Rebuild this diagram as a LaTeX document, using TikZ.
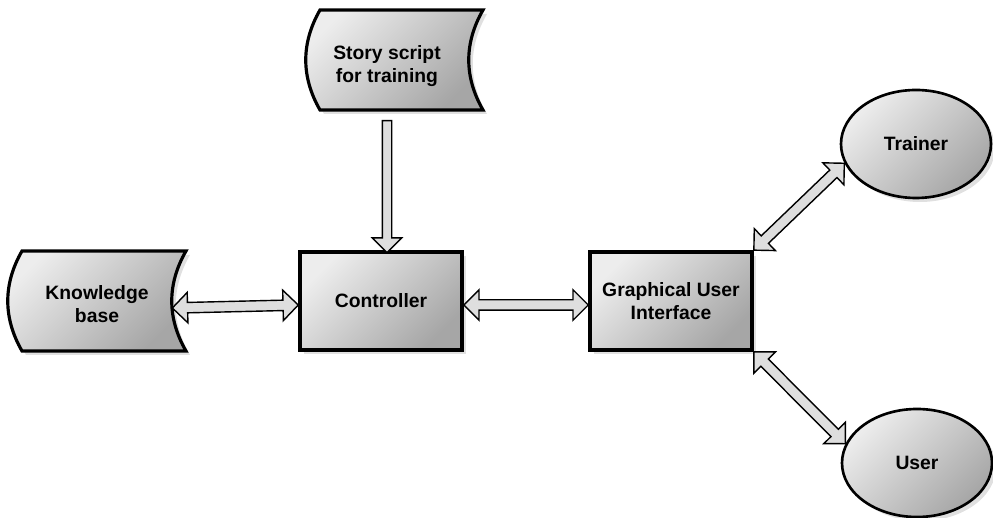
\documentclass[tikz,border=0pt]{standalone}
\usepackage{fontspec}
\setmainfont{Liberation Sans}
\usetikzlibrary{calc,positioning,shapes.geometric,shapes.arrows,shadows,backgrounds}

\tikzset{
  every node/.style={font=\fontsize{11}{12.8}\selectfont\bfseries, align=center},
  shadowed/.style={drop shadow={shadow xshift=0.8mm, shadow yshift=-0.8mm, opacity=0.12, fill=black}},
  grad/.style={top color=black!7, bottom color=black!35, shading angle=45},
  box/.style={rectangle, draw, line width=2pt, grad, shadowed, minimum width=32.4mm, minimum height=19.6mm},
  actor/.style={ellipse, draw, line width=1.5pt, grad, shadowed, minimum width=30mm, minimum height=21.6mm, inner sep=0pt},
  store/.style={draw, line width=1.8pt, grad, shadowed},
  storetext/.style={minimum width=30mm, minimum height=20mm},
  link/.style={double arrow, draw, line width=0.8pt, fill=black!13, inner sep=0.9mm, double arrow head extend=2mm},
  linkone/.style={single arrow, draw, line width=0.8pt, fill=black!13, inner sep=0.8mm, single arrow head extend=2mm},
}

% stored-data outline round a text node (#2 left, #3 right corner offset, #4 top offset)
\newcommand{\storedata}[4]{%
  \draw[store, shift={(#1.center)}] (#2,#4) -- (#3,#4)
    .. controls ({#3-19},{#4+33}) and ({#3-19},{#4+67}) .. (#3,{#4+100}) -- (#2,{#4+100})
    .. controls ({#2-19},{#4+67}) and ({#2-19},{#4+33}) .. (#2,#4) -- cycle;}

% hollow arrows between two points
\newcommand{\biway}[2]{%
  \path let \p1=($(#2)-(#1)$) in
    node[link, minimum height={veclen(\x1,\y1)}, rotate={atan2(\y1,\x1)}] at ($(#1)!0.5!(#2)$) {};}
\newcommand{\oneway}[2]{%
  \path let \p1=($(#2)-(#1)$) in
    node[linkone, minimum height={veclen(\x1,\y1)}, rotate={atan2(\y1,\x1)}] at ($(#1)!0.5!(#2)$) {};}

\begin{document}
\begin{tikzpicture}[x=0.2mm, y=-0.2mm]
\useasboundingbox (0,0) rectangle (993,518);

\node[storetext] (story) at (387,66) {Story script\\for training};
\node[storetext] (kb) at (97,304) {Knowledge\\base};
\node[box] (ctrl) at (381,301) {Controller};
\node[box] (gui) at (671,301) {Graphical User\\Interface};
\node[actor] (trainer) at (916,144) {Trainer};
\node[actor] (user) at (917,463) {User};

\begin{scope}[on background layer]
\storedata{story}{-67}{96}{-56}
\storedata{kb}{-75}{89}{-53}
\end{scope}

\oneway{[yshift=-0.4mm]story.south}{story.south |- ctrl.north}
\biway{[yshift=-0.8mm]kb.east}{[yshift=-0.8mm]ctrl.west}
\biway{[yshift=-0.8mm]ctrl.east}{[yshift=-0.8mm]gui.west}
\biway{gui.north east}{trainer.195}
\biway{gui.south east}{user.165}
\end{tikzpicture}
\end{document}
